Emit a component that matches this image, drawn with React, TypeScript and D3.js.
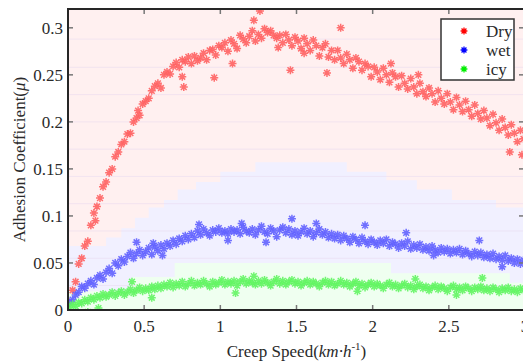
import React from 'react';
import * as d3 from 'd3';

// sample speeds (km/h) shared by the three surfaces
const speeds = [
  0.01, 0.03, 0.05, 0.07, 0.09, 0.11, 0.13, 0.15, 0.17, 0.19, 0.21, 0.23, 0.25, 0.27, 0.29,
  0.31, 0.33, 0.35, 0.37, 0.39, 0.41, 0.43, 0.45, 0.47, 0.49, 0.51, 0.53, 0.55, 0.57, 0.59,
  0.61, 0.63, 0.65, 0.67, 0.69, 0.71, 0.73, 0.75, 0.77, 0.79, 0.81, 0.83, 0.85, 0.87, 0.89,
  0.91, 0.93, 0.95, 0.97, 0.99, 1.01, 1.03, 1.05, 1.07, 1.09, 1.11, 1.13, 1.15, 1.17, 1.19,
  1.21, 1.23, 1.25, 1.27, 1.29, 1.31, 1.33, 1.35, 1.37, 1.39, 1.41, 1.43, 1.45, 1.47, 1.49,
  1.51, 1.53, 1.55, 1.57, 1.59, 1.61, 1.63, 1.65, 1.67, 1.69, 1.71, 1.73, 1.75, 1.77, 1.79,
  1.81, 1.83, 1.85, 1.87, 1.89, 1.91, 1.93, 1.95, 1.97, 1.99, 2.01, 2.03, 2.05, 2.07, 2.09,
  2.11, 2.13, 2.15, 2.17, 2.19, 2.21, 2.23, 2.25, 2.27, 2.29, 2.31, 2.33, 2.35, 2.37, 2.39,
  2.41, 2.43, 2.45, 2.47, 2.49, 2.51, 2.53, 2.55, 2.57, 2.59, 2.61, 2.63, 2.65, 2.67, 2.69,
  2.71, 2.73, 2.75, 2.77, 2.79, 2.81, 2.83, 2.85, 2.87, 2.89, 2.91, 2.93, 2.95, 2.97, 2.99,
];

const dryMu = [
  0.008, 0.021, 0.030, 0.049, 0.055, 0.068, 0.073, 0.090, 0.103, 0.110, 0.119, 0.131, 0.136, 0.146, 0.150,
  0.163, 0.168, 0.176, 0.179, 0.187, 0.188, 0.200, 0.204, 0.207, 0.219, 0.222, 0.225, 0.233, 0.238, 0.241,
  0.236, 0.250, 0.253, 0.251, 0.259, 0.263, 0.258, 0.266, 0.264, 0.269, 0.262, 0.270, 0.265, 0.268, 0.273,
  0.266, 0.276, 0.277, 0.271, 0.281, 0.279, 0.284, 0.275, 0.287, 0.283, 0.278, 0.292, 0.288, 0.284, 0.291,
  0.297, 0.286, 0.293, 0.289, 0.299, 0.295, 0.297, 0.292, 0.289, 0.292, 0.284, 0.293, 0.287, 0.281, 0.290,
  0.286, 0.278, 0.289, 0.283, 0.276, 0.287, 0.281, 0.270, 0.279, 0.283, 0.269, 0.276, 0.266, 0.276, 0.268,
  0.262, 0.272, 0.266, 0.257, 0.268, 0.264, 0.255, 0.262, 0.259, 0.248, 0.258, 0.253, 0.245, 0.257, 0.250,
  0.242, 0.252, 0.248, 0.237, 0.249, 0.241, 0.235, 0.246, 0.237, 0.230, 0.241, 0.232, 0.227, 0.236, 0.230,
  0.221, 0.233, 0.225, 0.219, 0.230, 0.221, 0.213, 0.226, 0.218, 0.211, 0.222, 0.213, 0.206, 0.218, 0.209,
  0.203, 0.212, 0.204, 0.196, 0.208, 0.199, 0.191, 0.203, 0.194, 0.186, 0.197, 0.188, 0.179, 0.191, 0.182,
];

const wetMu = [
  0.008, 0.011, 0.016, 0.019, 0.025, 0.023, 0.028, 0.031, 0.027, 0.034, 0.037, 0.033, 0.040, 0.044, 0.039,
  0.050, 0.047, 0.054, 0.051, 0.057, 0.061, 0.055, 0.060, 0.064, 0.058, 0.062, 0.066, 0.059, 0.067, 0.063,
  0.069, 0.065, 0.071, 0.068, 0.074, 0.070, 0.076, 0.073, 0.079, 0.075, 0.081, 0.077, 0.084, 0.080, 0.086,
  0.082, 0.079, 0.085, 0.083, 0.087, 0.082, 0.084, 0.081, 0.086, 0.083, 0.085, 0.081, 0.088, 0.084, 0.082,
  0.086, 0.080, 0.085, 0.089, 0.083, 0.081, 0.087, 0.084, 0.078, 0.085, 0.088, 0.082, 0.086, 0.080, 0.084,
  0.079, 0.083, 0.087, 0.081, 0.084, 0.078, 0.082, 0.086, 0.080, 0.083, 0.077, 0.081, 0.076, 0.080, 0.074,
  0.079, 0.076, 0.072, 0.078, 0.075, 0.071, 0.077, 0.073, 0.070, 0.075, 0.072, 0.069, 0.074, 0.071, 0.075,
  0.068, 0.072, 0.070, 0.066, 0.071, 0.068, 0.073, 0.065, 0.069, 0.066, 0.070, 0.064, 0.067, 0.063, 0.068,
  0.064, 0.061, 0.066, 0.062, 0.065, 0.060, 0.064, 0.061, 0.065, 0.059, 0.063, 0.060, 0.057, 0.062, 0.058,
  0.061, 0.056, 0.059, 0.055, 0.060, 0.054, 0.057, 0.053, 0.058, 0.052, 0.055, 0.050, 0.054, 0.049, 0.053,
];

const icyMu = [
  0.003, 0.006, 0.004, 0.008, 0.007, 0.011, 0.009, 0.013, 0.011, 0.015, 0.013, 0.017, 0.014, 0.016, 0.019,
  0.015, 0.018, 0.020, 0.016, 0.019, 0.022, 0.018, 0.021, 0.024, 0.020, 0.023, 0.021, 0.025, 0.022, 0.026,
  0.023, 0.027, 0.025, 0.029, 0.024, 0.028, 0.026, 0.030, 0.025, 0.028, 0.031, 0.026, 0.029, 0.027, 0.031,
  0.028, 0.025, 0.030, 0.027, 0.029, 0.032, 0.027, 0.030, 0.028, 0.031, 0.026, 0.030, 0.033, 0.028, 0.031,
  0.029, 0.027, 0.031, 0.028, 0.032, 0.029, 0.026, 0.030, 0.033, 0.028, 0.031, 0.027, 0.030, 0.032, 0.028,
  0.030, 0.026, 0.029, 0.031, 0.027, 0.030, 0.028, 0.025, 0.029, 0.031, 0.027, 0.030, 0.026, 0.028, 0.031,
  0.027, 0.029, 0.025, 0.028, 0.030, 0.026, 0.028, 0.024, 0.027, 0.029, 0.025, 0.028, 0.026, 0.023, 0.027,
  0.029, 0.025, 0.027, 0.023, 0.026, 0.028, 0.024, 0.026, 0.022, 0.025, 0.027, 0.023, 0.025, 0.021, 0.024,
  0.026, 0.022, 0.025, 0.023, 0.020, 0.024, 0.026, 0.022, 0.024, 0.021, 0.025, 0.023, 0.020, 0.024, 0.022,
  0.025, 0.021, 0.023, 0.020, 0.024, 0.022, 0.019, 0.023, 0.021, 0.024, 0.020, 0.022, 0.019, 0.023, 0.021,
];

// scattered points that sit off the main bands
const dryExtra: [number, number][] = [
  [0.18, 0.095], [0.46, 0.212], [0.75, 0.248], [0.76, 0.237], [0.96, 0.247], [1.08, 0.262],
  [1.22, 0.308], [1.26, 0.318], [1.38, 0.279], [1.46, 0.255], [1.55, 0.273], [1.70, 0.252],
  [1.79, 0.300], [2.12, 0.262], [2.30, 0.250], [2.90, 0.168], [2.98, 0.165],
];
const wetExtra: [number, number][] = [
  [0.45, 0.072], [0.56, 0.071], [0.62, 0.058], [0.86, 0.091], [1.05, 0.074], [1.14, 0.092],
  [1.30, 0.072], [1.47, 0.097], [1.63, 0.092], [1.95, 0.090], [2.22, 0.082], [2.40, 0.058],
  [2.70, 0.074], [2.85, 0.046],
];
const icyExtra: [number, number][] = [
  [0.13, -0.002], [0.20, 0.002], [0.42, 0.030], [0.55, 0.013], [1.10, 0.018], [1.22, 0.036],
  [1.90, 0.020], [2.28, 0.033], [2.55, 0.016], [2.72, 0.034],
];

// stepped shaded envelopes behind the points
const wetBandX = [0, 0.25, 0.35, 0.44, 0.53, 0.63, 0.72, 0.84, 1.0, 1.23, 1.83, 2.09, 2.29, 2.52, 2.81];
const wetBandTop = [0.068, 0.077, 0.087, 0.098, 0.109, 0.117, 0.128, 0.136, 0.147, 0.157, 0.147, 0.138, 0.128, 0.117, 0.109];
const icyBandX = [0, 0.42, 0.7, 2.12, 2.9];
const icyBandTop = [0.02, 0.035, 0.05, 0.039, 0.029];

const gridLevels = [0.026, 0.055, 0.084, 0.113, 0.142, 0.171, 0.2, 0.229, 0.258, 0.288];

const xTicks = [0, 0.5, 1, 1.5, 2, 2.5, 3];
const xTickLabels = ['0', '0.5', '1', '1.5', '2', '2.5', '3'];
const yTicks = [0, 0.05, 0.1, 0.15, 0.2, 0.25, 0.3];
const yTickLabels = ['0', '0.05', '0.1', '0.15', '0.2', '0.25', '0.3'];

const legendNames = ['Dry', 'wet', 'icy'];
const legendColors = ['#ff0000', '#0000ff', '#00ee00'];

const width = 523;
const height = 362;
const margin = { left: 68, top: 9, bottom: 52 };
const plotRight = 525;
const font = "'Liberation Serif', 'DejaVu Serif', serif";

const asterisk = (r: number) => {
  const a = r * 0.72;
  return `M${-r},0H${r}M0,${-r}V${r}M${-a},${-a}L${a},${a}M${-a},${a}L${a},${-a}`;
};

const App: React.FC = () => {
  const x = d3.scaleLinear().domain([0, 3]).range([margin.left, plotRight]);
  const y = d3.scaleLinear().domain([0, 0.32]).range([height - margin.bottom, margin.top]);
  const bottom = height - margin.bottom;

  const band = d3
    .area<[number, number]>()
    .x((d) => x(d[0]))
    .y0(bottom)
    .y1((d) => y(d[1]))
    .curve(d3.curveStepAfter);

  const wetBand: [number, number][] = wetBandX.map((v, i) => [v, wetBandTop[i]]);
  wetBand.push([3, wetBandTop[wetBandTop.length - 1]]);
  const icyBand: [number, number][] = icyBandX.map((v, i) => [v, icyBandTop[i]]);
  icyBand.push([3, icyBandTop[icyBandTop.length - 1]]);

  const series = [
    { pts: speeds.map((s, i) => [s, dryMu[i]]).concat(dryExtra), color: '#ff6262' },
    { pts: speeds.map((s, i) => [s, wetMu[i]]).concat(wetExtra), color: '#6262ff' },
    { pts: speeds.map((s, i) => [s, icyMu[i]]).concat(icyExtra), color: '#62f562' },
  ];

  const star = asterisk(4);

  return (
    <svg
      width={width}
      height={height}
      style={{ position: 'absolute', left: 0, top: 0, background: '#fff', fontFamily: font }}
    >
      <defs>
        <clipPath id="plot">
          <rect x={margin.left} y={margin.top} width={plotRight - margin.left} height={bottom - margin.top} />
        </clipPath>
      </defs>

      <g clipPath="url(#plot)">
        <rect x={margin.left} y={margin.top} width={plotRight - margin.left} height={bottom - margin.top} fill="#fff0f0" />
        <path d={band(wetBand) || ''} fill="#f1f0ff" />
        <path d={band(icyBand) || ''} fill="#effff0" />
        {gridLevels.map((g) => (
          <line key={g} x1={margin.left} x2={plotRight} y1={y(g)} y2={y(g)} stroke="#e8d8ee" strokeOpacity={0.55} strokeWidth={1} />
        ))}
        {series.map((s, si) => (
          <g key={si} stroke={s.color} strokeWidth={1.5} strokeOpacity={0.9} fill="none">
            {s.pts.map((p, i) => (
              <path key={i} d={star} transform={`translate(${x(p[0])},${y(p[1])})`} />
            ))}
          </g>
        ))}
      </g>

      {/* inward ticks */}
      <g stroke="#777" strokeWidth={1.5}>
        {xTicks.map((t) => (
          <g key={t}>
            <line x1={x(t)} x2={x(t)} y1={bottom} y2={bottom - 5} />
            <line x1={x(t)} x2={x(t)} y1={margin.top} y2={margin.top + 5} />
          </g>
        ))}
        {yTicks.map((t) => (
          <g key={t}>
            <line x1={margin.left} x2={margin.left + 5} y1={y(t)} y2={y(t)} />
            <line x1={plotRight} x2={plotRight - 6} y1={y(t)} y2={y(t)} />
          </g>
        ))}
      </g>

      {/* axes frame */}
      <g stroke="#262626" strokeWidth={2} fill="none">
        <line x1={margin.left} x2={margin.left} y1={margin.top} y2={bottom + 1} />
        <line x1={margin.left - 1} x2={width} y1={bottom} y2={bottom} />
        <line x1={margin.left - 1} x2={width} y1={margin.top} y2={margin.top} />
      </g>

      <g fontSize={17} fill="#2a2a2a">
        {xTicks.map((t, i) => (
          <text key={t} x={x(t)} y={bottom + 22} textAnchor="middle">
            {xTickLabels[i]}
          </text>
        ))}
        {yTicks.map((t, i) => (
          <text key={t} x={margin.left - 5} y={y(t) + 6} textAnchor="end">
            {yTickLabels[i]}
          </text>
        ))}
      </g>

      <text x={(margin.left + plotRight) / 2} y={357} textAnchor="middle" fontSize={17} fill="#2a2a2a">
        Creep Speed(<tspan fontStyle="italic">km·h</tspan>
        <tspan dy={-7} fontSize={11}>-1</tspan>
        <tspan dy={7}>)</tspan>
      </text>

      <text
        transform={`translate(25,${(margin.top + bottom) / 2}) rotate(-90)`}
        textAnchor="middle"
        fontSize={17}
        fill="#2a2a2a"
      >
        Adhesion Coefficient(<tspan fontStyle="italic">μ</tspan>)
      </text>

      {/* legend */}
      <g>
        <rect x={441} y={19} width={73} height={61} fill="#fff" stroke="#333" strokeWidth={1.5} />
        {legendNames.map((n, i) => (
          <g key={n}>
            <path d={asterisk(3.4)} transform={`translate(464,${31 + i * 19})`} stroke={legendColors[i]} strokeWidth={1.3} fill="none" />
            <text x={486} y={31 + i * 19 + 6} fontSize={17} fill="#2a2a2a">
              {n}
            </text>
          </g>
        ))}
      </g>
    </svg>
  );
};

export default App;
